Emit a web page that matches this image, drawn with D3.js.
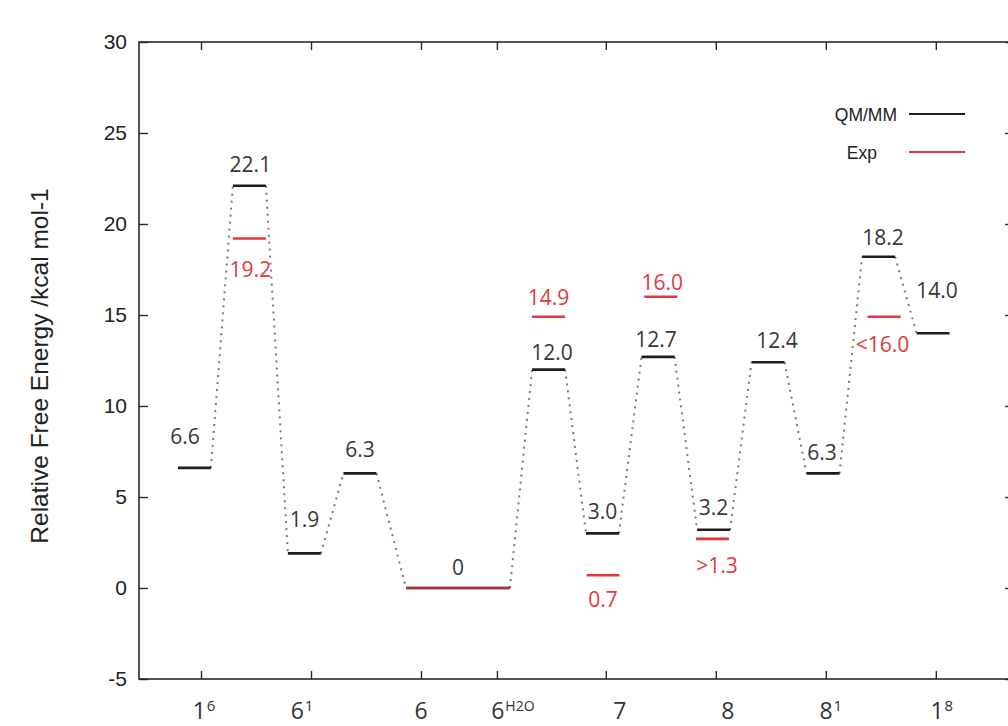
<!DOCTYPE html>
<html>
<head>
<meta charset="utf-8">
<script src="https://cdn.jsdelivr.net/npm/d3@7"></script>
<style>
  html, body { margin: 0; padding: 0; background: #fff; }
  svg { display: block; }
</style>
</head>
<body>
<svg id="chart" width="1008" height="726"></svg>
<script>
// ---------------- data ----------------
const yTicks = [-5, 0, 5, 10, 15, 20, 25, 30];
const xTickValues = [1, 2, 3, 3.69, 4.68, 5.68, 6.68, 7.68];
const xTickBase = ["1", "6", "6", "6", "7", "8", "8", "1"];
const xTickSup  = ["6", "1", "", "H2O", "", "", "1", "8"];

// QM/MM levels (position along reaction coordinate, width, energy, label)
const qmPos    = [0.94, 1.44, 1.94, 2.445, 3.336, 4.16, 4.65, 5.155, 5.66, 6.155, 6.655, 7.16, 7.655];
const qmWidth  = [0.3, 0.3, 0.3, 0.3, 0.945, 0.3, 0.3, 0.3, 0.3, 0.3, 0.3, 0.3, 0.3];
const qmValues = [6.6, 22.1, 1.9, 6.3, 0, 12.0, 3.0, 12.7, 3.2, 12.4, 6.3, 18.2, 14.0];
const qmLabels = ["6.6", "22.1", "1.9", "6.3", "0", "12.0", "3.0", "12.7", "3.2", "12.4", "6.3", "18.2", "14.0"];

// Experimental levels
const expPos    = [1.44, 3.336, 4.16, 4.655, 5.18, 5.65, 7.21];
const expWidth  = [0.3, 0.945, 0.3, 0.3, 0.3, 0.3, 0.3];
const expValues = [19.2, 0, 14.9, 0.7, 16.0, 2.7, 14.9];
const expLabels = ["19.2", "", "14.9", "0.7", "16.0", ">1.3", "<16.0"];

const legendNames = ["QM/MM", "Exp"];

// ---------------- styling ----------------
const W = 1008, H = 726;
const plot = { left: 139, right: 1013, top: 42, bottom: 679 };
const qmColor = "#1e1e1e", expColor = "#e8353a";
const qmText = "#383838", expText = "#e23a3e";
const valueFont = "'Open Sans', 'Noto Sans', sans-serif";
const axisFont = "'Liberation Sans', Arial, sans-serif";
// per-label nudges (px) for value labels, as in the original figure
const qmLabelDx = [-9.5, 1, 0, 0, 0, 3.5, 0, -2, 0, 9, -1, 4.5, 4];
const qmLabelDy = [-24, -14, -26, -16, -13, -10, -14, -10, -15, -14, -13, -12, -35];
const expLabelDx = [1, 0, 0, 0, 1.5, 4.5, -1.5];
const expLabelDy = [38, 0, -12, 32, -7, 34, 35];
const xLabelShift = [3, -9, 0, 16, 14, 12, 5, 6];

const svg = d3.select("#chart");
svg.append("rect").attr("width", W).attr("height", H).attr("fill", "#fff");

const x = d3.scaleLinear().domain([0.4364, 8.3818]).range([plot.left, plot.right]);
const y = d3.scaleLinear().domain([-5, 30]).range([plot.bottom, plot.top]);

// ---------------- axes ----------------
const axisColor = "#2a2a2a";
function styleAxis(g) {
  g.select(".domain").remove();
  g.selectAll(".tick line").attr("stroke", axisColor).attr("stroke-width", 1.4);
}
svg.append("g").attr("transform", `translate(${plot.left},0)`)
  .call(d3.axisLeft(y).tickValues(yTicks).tickSize(-9).tickPadding(12).tickFormat(d => String(d)))
  .call(styleAxis)
  .call(g => g.selectAll(".tick text").attr("font-family", axisFont).attr("font-size", 21).attr("fill", "#222"));
svg.append("g").attr("transform", `translate(${plot.right},0)`)
  .call(d3.axisRight(y).tickValues(yTicks).tickSize(-8).tickFormat(""))
  .call(styleAxis);
svg.append("g").attr("transform", `translate(0,${plot.bottom})`)
  .call(d3.axisBottom(x).tickValues(xTickValues).tickSize(-8).tickFormat(""))
  .call(styleAxis);
svg.append("g").attr("transform", `translate(0,${plot.top})`)
  .call(d3.axisTop(x).tickValues(xTickValues).tickSize(-8).tickFormat(""))
  .call(styleAxis);

svg.append("rect")
  .attr("x", plot.left).attr("y", plot.top)
  .attr("width", plot.right - plot.left).attr("height", plot.bottom - plot.top)
  .attr("fill", "none").attr("stroke", axisColor).attr("stroke-width", 1.6);

// x tick labels with superscripts
const xl = svg.append("g");
xTickValues.forEach((v, i) => {
  const t = xl.append("text")
    .attr("x", x(v) + xLabelShift[i]).attr("y", 719)
    .attr("text-anchor", "middle")
    .attr("font-family", valueFont).attr("fill", "#333");
  t.append("tspan").attr("font-size", 23).text(xTickBase[i]);
  if (xTickSup[i]) {
    t.append("tspan").attr("font-size", xTickSup[i].length > 1 ? 14 : 15)
      .attr("dx", 1).attr("dy", -8).text(xTickSup[i]);
  }
});

// y axis title
svg.append("text")
  .attr("transform", `translate(48,366) rotate(-90)`)
  .attr("text-anchor", "middle")
  .attr("font-family", axisFont).attr("font-size", 24.5).attr("fill", "#222")
  .text("Relative Free Energy /kcal mol-1");

// ---------------- connectors ----------------
const conn = svg.append("g");
for (let i = 0; i < qmValues.length - 1; i++) {
  conn.append("line")
    .attr("x1", x(qmPos[i] + qmWidth[i] / 2)).attr("y1", y(qmValues[i]))
    .attr("x2", x(qmPos[i + 1] - qmWidth[i + 1] / 2)).attr("y2", y(qmValues[i + 1]))
    .attr("stroke", "#7a7a7a").attr("stroke-width", 2)
    .attr("stroke-dasharray", "2,5");
}

// ---------------- levels ----------------
svg.append("g").selectAll("line").data(qmValues).join("line")
  .attr("x1", (d, i) => x(qmPos[i] - qmWidth[i] / 2))
  .attr("x2", (d, i) => x(qmPos[i] + qmWidth[i] / 2))
  .attr("y1", d => y(d)).attr("y2", d => y(d))
  .attr("stroke", qmColor).attr("stroke-width", 2.6);

svg.append("g").selectAll("line").data(expValues).join("line")
  .attr("x1", (d, i) => x(expPos[i] - expWidth[i] / 2))
  .attr("x2", (d, i) => x(expPos[i] + expWidth[i] / 2))
  .attr("y1", d => y(d)).attr("y2", d => y(d))
  .attr("stroke", expColor).attr("stroke-width", 2.6)
  .attr("stroke-opacity", (d, i) => expWidth[i] > 0.5 ? 0.72 : 1);

// value labels
svg.append("g").selectAll("text").data(qmValues).join("text")
  .attr("x", (d, i) => x(qmPos[i]) + qmLabelDx[i])
  .attr("y", (d, i) => y(d) + qmLabelDy[i])
  .attr("text-anchor", "middle")
  .attr("font-family", valueFont).attr("font-size", 21).attr("fill", qmText)
  .text((d, i) => qmLabels[i]);

svg.append("g").selectAll("text").data(expValues).join("text")
  .attr("x", (d, i) => x(expPos[i]) + expLabelDx[i])
  .attr("y", (d, i) => y(d) + expLabelDy[i])
  .attr("text-anchor", "middle")
  .attr("font-family", valueFont).attr("font-size", 21).attr("fill", expText)
  .text((d, i) => expLabels[i]);

// ---------------- legend ----------------
const leg = svg.append("g");
const legY = [114, 152], legTextX = [897, 877], legColors = [qmColor, expColor];
legendNames.forEach((n, i) => {
  leg.append("text").attr("x", legTextX[i]).attr("y", legY[i] + 6.5)
    .attr("text-anchor", "end").attr("font-family", axisFont).attr("font-size", 17.5)
    .attr("fill", "#222").text(n);
  leg.append("line").attr("x1", 909).attr("x2", 965).attr("y1", legY[i]).attr("y2", legY[i])
    .attr("stroke", legColors[i]).attr("stroke-width", 2);
});
</script>
</body>
</html>
